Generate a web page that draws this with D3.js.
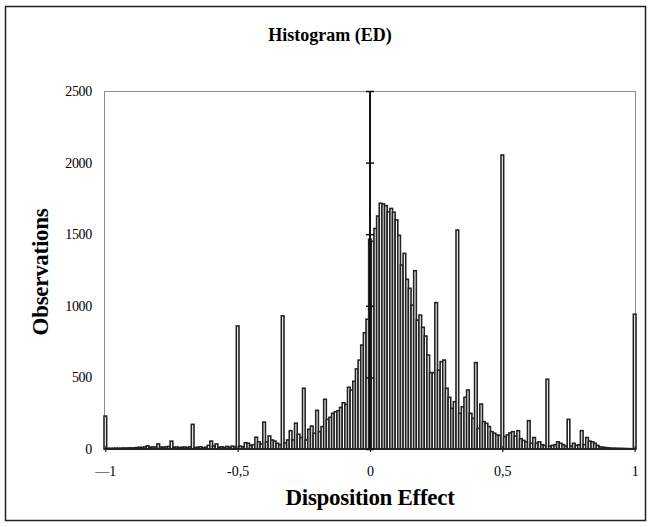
<!DOCTYPE html>
<html>
<head>
<meta charset="utf-8">
<script src="https://cdn.jsdelivr.net/npm/d3@7/dist/d3.min.js"></script>
<style>
  body { margin: 0; background: #fff; }
  svg text { font-family: "Liberation Serif", "Times New Roman", serif; fill: #000; }
</style>
</head>
<body>
<svg id="chart" width="652" height="527"></svg>
<script>
// bins: -1.00, -0.99, ... , 1.00 (201 categories)
var binValues = d3.range(-100, 101).map(function (k) { return k / 100; });

// observations per bin (left to right)
var counts = [
  230,
  5, 4, 5, 6, 5, 6, 7, 6, 8, 7,
  8, 10, 12, 10, 15, 22, 12, 15, 14,
  35,
  14, 12, 15, 18,
  55,
  12, 14, 10, 12, 14, 10, 15,
  172,
  10, 12, 15, 8, 12, 25,
  55,
  22, 35, 12, 15, 10, 18, 12, 20, 15,
  859,
  20, 15, 44, 40, 25, 30, 82, 50, 35,
  188,
  50, 91, 63, 55, 40, 30,
  930,
  43, 63, 128, 63, 180, 103, 80,
  424,
  63, 138, 160, 110,
  270,
  121, 156,
  347,
  207, 221, 249, 260, 267, 290, 323, 312, 431, 412, 473, 559, 621, 726, 812, 906,
  1465,
  1450, 1540, 1627, 1716, 1711, 1699, 1657, 1680, 1653, 1600, 1492, 1285, 1366, 1185, 1122, 1005,
  1245,
  900, 935, 850, 789, 656, 533, 533, 1022, 551, 610, 621, 424, 361, 284, 330,
  1529,
  249, 295, 361, 412, 249, 214, 603, 144, 314, 191, 179, 156, 121, 110, 98, 95,
  2053,
  86, 98, 112, 121, 90, 128, 72, 60, 50,
  198,
  40, 80, 40, 50, 30, 25,
  487,
  20, 25, 30, 50, 40, 30, 20,
  207,
  20, 40, 25, 30,
  128,
  30, 80, 55, 50, 40, 25, 15, 12, 10, 8,
  6, 5, 5, 4, 4, 3, 3, 2, 2,
  941
];

var yTicks = [0, 500, 1000, 1500, 2000, 2500];
var xTicks = [-1, -0.5, 0, 0.5, 1];
var xTickLabels = ["\u20141", "-0,5", "0", "0,5", "1"];

var data = binValues.map(function (v, i) { return { bin: v, n: counts[i] }; });

var svg = d3.select("#chart");

var plot = { left: 104, right: 636, top: 91, bottom: 449 };

var x = d3.scaleBand()
  .domain(binValues)
  .range([plot.left, plot.right])
  .padding(0);

var y = d3.scaleLinear()
  .domain([0, 2500])
  .range([plot.bottom, plot.top]);

var cx = function (v) { return x(Math.round(v * 100) / 100) + x.bandwidth() / 2; };

// outer border
svg.append("rect")
  .attr("x", 5.5).attr("y", 6.5)
  .attr("width", 640).attr("height", 514)
  .attr("fill", "#fff")
  .attr("stroke", "#222")
  .attr("stroke-width", 1.5);

// plot area frame
svg.append("rect")
  .attr("x", plot.left + 0.5).attr("y", plot.top + 0.5)
  .attr("width", plot.right - plot.left - 1)
  .attr("height", plot.bottom - plot.top)
  .attr("fill", "none")
  .attr("stroke", "#8c8c8c")
  .attr("stroke-width", 1);

// bars
svg.append("g")
  .selectAll("rect")
  .data(data)
  .join("rect")
    .attr("x", function (d) { return x(d.bin); })
    .attr("y", function (d) { return y(d.n); })
    .attr("width", x.bandwidth())
    .attr("height", function (d) { return y(0) - y(d.n); })
    .attr("fill", "#fff")
    .attr("stroke", "#222")
    .attr("stroke-width", 1.6);

// x axis line with crossing ticks
var xLin = d3.scaleLinear().domain([-1, 1]).range([cx(-1), cx(1)]);

svg.append("line")
  .attr("x1", plot.left).attr("x2", plot.right)
  .attr("y1", y(0)).attr("y2", y(0))
  .attr("stroke", "#222").attr("stroke-width", 1.5);

svg.append("g")
  .attr("transform", "translate(0," + y(0) + ")")
  .call(d3.axisBottom(xLin).tickValues(xTicks).tickSize(3).tickFormat(""))
  .call(function (g) { g.select(".domain").remove(); g.selectAll("line").attr("stroke", "#222").attr("stroke-width", 1.2); });

svg.append("g")
  .attr("transform", "translate(0," + y(0) + ")")
  .call(d3.axisTop(xLin).tickValues(xTicks).tickSize(3).tickFormat(""))
  .call(function (g) { g.select(".domain").remove(); g.selectAll("line").attr("stroke", "#222").attr("stroke-width", 1.2); });

// x tick labels
svg.append("g")
  .attr("transform", "translate(0," + y(0) + ")")
  .call(d3.axisBottom(xLin).tickValues(xTicks).tickSize(0).tickPadding(17)
    .tickFormat(function (d, i) { return xTickLabels[i]; }))
  .call(function (g) {
    g.select(".domain").remove();
    g.selectAll("text")
      .attr("font-size", 14)
      .attr("fill", "#000");
  });

// y axis at zero with crossing ticks
var y0x = cx(0);

svg.append("line")
  .attr("x1", y0x).attr("x2", y0x)
  .attr("y1", y(0)).attr("y2", y(2500))
  .attr("stroke", "#111").attr("stroke-width", 2);

svg.append("g")
  .attr("transform", "translate(" + y0x + ",0)")
  .call(d3.axisLeft(y).tickValues(yTicks).tickSize(4).tickFormat(""))
  .call(function (g) { g.select(".domain").remove(); g.selectAll("line").attr("stroke", "#111").attr("stroke-width", 1.5); });

svg.append("g")
  .attr("transform", "translate(" + y0x + ",0)")
  .call(d3.axisRight(y).tickValues(yTicks).tickSize(4).tickFormat(""))
  .call(function (g) { g.select(".domain").remove(); g.selectAll("line").attr("stroke", "#111").attr("stroke-width", 1.5); });

// y tick labels at the left of the frame
svg.append("g")
  .attr("transform", "translate(" + plot.left + ",0)")
  .call(d3.axisLeft(y).tickValues(yTicks).tickSize(0).tickPadding(12).tickFormat(d3.format("d")))
  .call(function (g) {
    g.select(".domain").remove();
    g.selectAll("text")
      .attr("font-size", 14)
      .attr("letter-spacing", "-0.3")
      .attr("fill", "#000");
  });

// titles
svg.append("text")
  .attr("x", 330).attr("y", 41)
  .attr("text-anchor", "middle")
  .attr("font-size", 18)
  .attr("font-weight", "bold")
  .text("Histogram (ED)");

svg.append("text")
  .attr("x", y0x).attr("y", 505)
  .attr("text-anchor", "middle")
  .attr("font-size", 23)
  .attr("font-weight", "bold")
  .attr("letter-spacing", "-0.3")
  .text("Disposition Effect");

svg.append("text")
  .attr("transform", "translate(48,272) rotate(-90)")
  .attr("text-anchor", "middle")
  .attr("font-size", 23)
  .attr("font-weight", "bold")
  .attr("letter-spacing", "-0.3")
  .text("Observations");
</script>
</body>
</html>
